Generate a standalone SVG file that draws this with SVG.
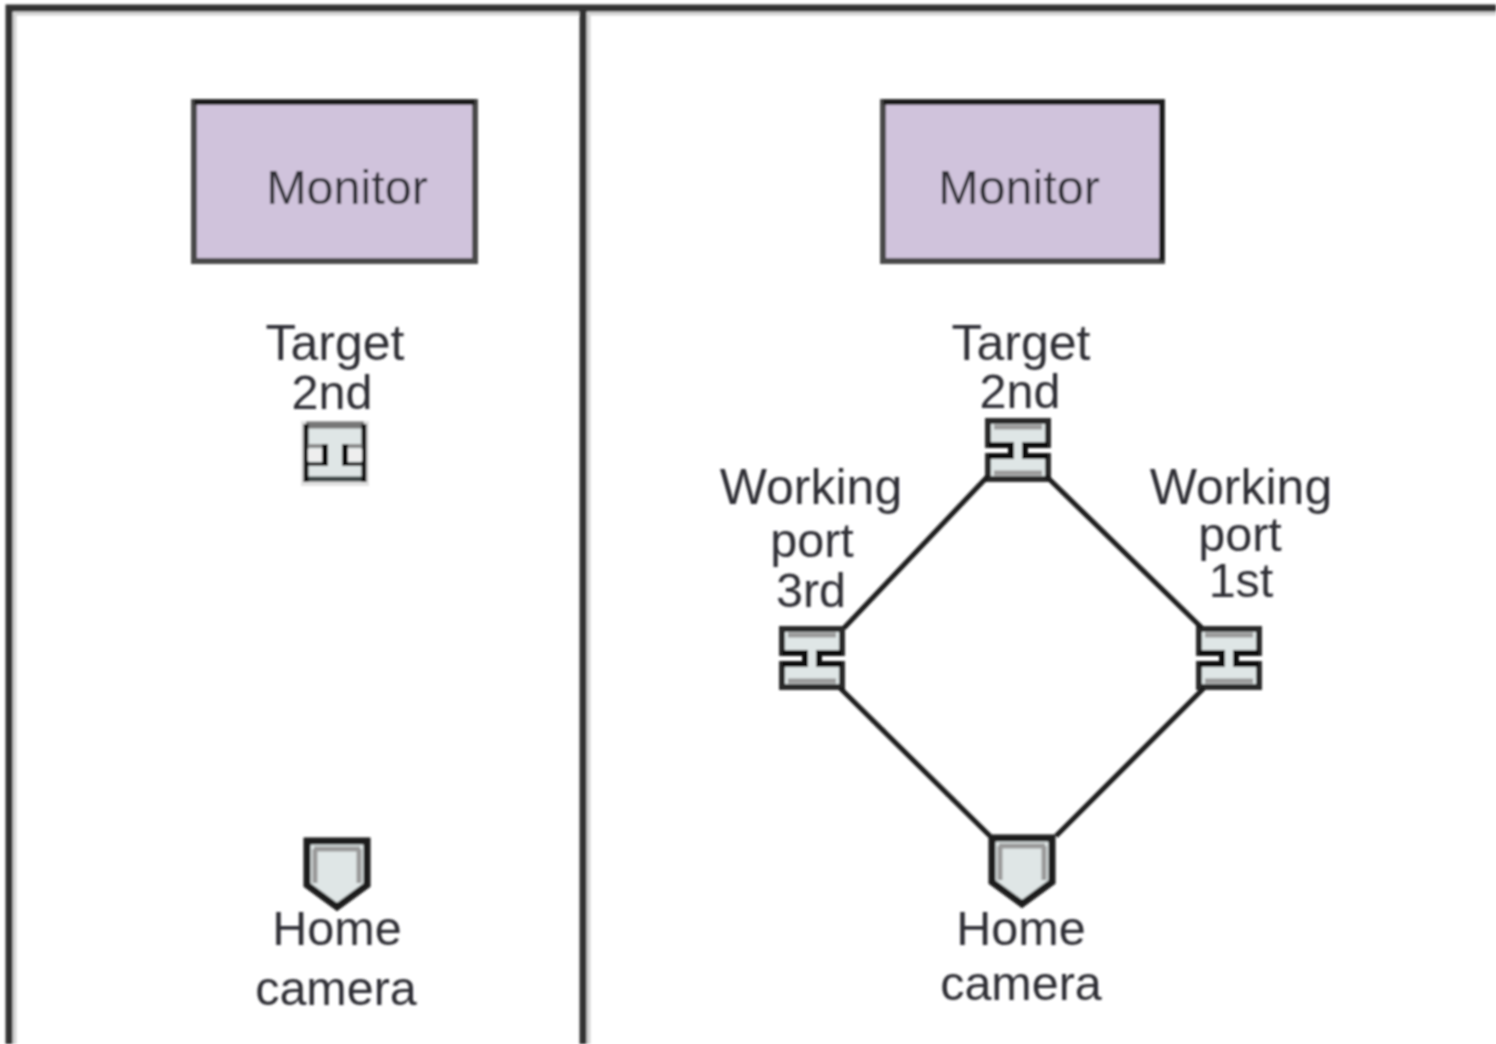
<svg xmlns="http://www.w3.org/2000/svg" width="1496" height="1044" viewBox="0 0 1496 1044">
<defs>
<filter id="soft" x="-5%" y="-5%" width="110%" height="110%"><feGaussianBlur stdDeviation="1.2"/></filter>
<g id="port">
<path class="body" d="M0 0H60V24H37V35H60V58H0V35H23V24H0Z"/>
<path class="band" d="M6 6H54M6 52H54"/>
<path class="notch" d="M0 24H23V35H0M60 24H37V35H60"/>
</g>
<g id="camera">
<path class="body thick" d="M0 0H60V44L30 66L0 44Z"/>
<path class="band" d="M7 8H53M8 8V42M52 8V42"/>
</g>
</defs>
<style>
text{font-family:"Liberation Sans",Arial,sans-serif;font-size:48.5px;fill:#2e2e34;text-anchor:middle}
.wide{font-size:50px}
.mon{fill:#d0c3dc;stroke:#4a4a4a;stroke-width:6}
.edge{fill:none;stroke:#1c1c1c;stroke-width:5}
.body{fill:#dfe6e6;stroke:#2a2a2a;stroke-width:6}
.thick{stroke:#1c1c1c;stroke-width:7}
.band{fill:none;stroke:#9a9a9a;stroke-width:5}
.notch{fill:none;stroke:#111;stroke-width:5}
.wire{fill:none;stroke:#1a1a1a;stroke-width:5}
.frame{fill:none;stroke:#333;stroke-width:7}
.framehalo{fill:none;stroke:#d4d4d4;stroke-width:5}
</style>
<rect width="1496" height="1044" fill="#fff"/>
<g filter="url(#soft)">
<g id="frame">
<path class="framehalo" d="M1496 13H14V1044M588 13V1044"/>
<path class="frame" d="M1496 8H9V1044M583 8V1044"/>
</g>
<g id="monitor-left"><rect class="mon" x="194" y="102" width="281" height="159"/><path class="edge" d="M194 102H475"/><text x="347" y="204">Monitor</text></g>
<g id="target-left">
<text class="wide" x="335" y="360">Target</text><text x="332" y="409">2nd</text>
<rect x="301" y="421" width="68" height="65" fill="#e2e2e2"/>
<rect x="306" y="424" width="58" height="57" fill="#dfe6e6"/>
<path d="M306 425H364" stroke="#777" stroke-width="7" fill="none"/>
<path d="M306 479H364" stroke="#3a4444" stroke-width="5" fill="none"/>
<path class="notch" d="M306 424V482M364 424V482"/>
<path d="M308 444H326V448H308ZM362 444H344V448H362Z" fill="#8a8a8a"/>
<path d="M308 462H326V466H308ZM362 462H344V466H362Z" fill="#333"/>
<path d="M308 449H322V461H308ZM362 449H348V461H362Z" fill="#eee"/>
<path d="M325 444V466M345 444V466" stroke="#111" stroke-width="6" fill="none"/>
</g>
<g id="camera-left">
<use href="#camera" x="307" y="841"/>
<text x="337" y="945">Home</text><text x="336" y="1005">camera</text>
</g>
<g id="monitor-right"><rect class="mon" x="883" y="102" width="279" height="159"/><path class="edge" d="M883 102H1162V261"/><text x="1019" y="204">Monitor</text></g>
<g id="target-right">
<text class="wide" x="1021" y="360">Target</text><text x="1020" y="408">2nd</text>
<use href="#port" x="988" y="421"/>
</g>
<g id="port-3rd">
<text class="wide" x="811" y="504">Working</text><text x="812" y="557">port</text><text x="811" y="607">3rd</text>
<use href="#port" x="782" y="629"/>
</g>
<g id="port-1st">
<text class="wide" x="1241" y="504">Working</text><text x="1240" y="551">port</text><text x="1241" y="597">1st</text>
<use href="#port" x="1199" y="629"/>
</g>
<g id="camera-right">
<use href="#camera" x="992" y="838"/>
<text x="1021" y="945">Home</text><text x="1021" y="1000">camera</text>
</g>
<g id="connectors">
<path class="wire" d="M988 476L844 628M1046 476L1202 628M840 688L990 836M1204 688L1056 836"/>
</g>
</g>
</svg>
